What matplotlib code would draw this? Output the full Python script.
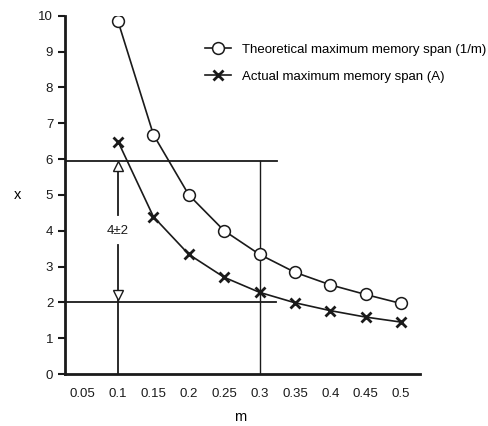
import numpy as np
import matplotlib
matplotlib.use("Agg")
import matplotlib.pyplot as plt

plt.rcParams['font.family'] = ['Liberation Sans', 'DejaVu Sans']

m = [0.1, 0.15, 0.2, 0.25, 0.3, 0.35, 0.4, 0.45, 0.5]
theoretical = [9.84, 6.68, 5.0, 4.0, 3.34, 2.84, 2.49, 2.22, 1.97]
actual = [6.49, 4.39, 3.34, 2.70, 2.28, 1.99, 1.77, 1.59, 1.45]
xticks = [0.05, 0.1, 0.15, 0.2, 0.25, 0.3, 0.35, 0.4, 0.45, 0.5]
xticklabels = ['0.05', '0.1', '0.15', '0.2', '0.25', '0.3', '0.35', '0.4', '0.45', '0.5']
span_low, span_high = 2, 5.95

fig = plt.figure(figsize=(4.89, 4.26), dpi=100)
ax = fig.add_axes([0.133, 0.122, 0.726, 0.841])

ax.plot(m, theoretical, '-', color='#1a1a1a', lw=1.2, marker='o', ms=8.5,
        mfc='white', mec='#1a1a1a', mew=1.1, zorder=3,
        label='Theoretical maximum memory span (1/m)')
ax.plot(m, actual, '-', color='#1a1a1a', lw=1.2, marker='x', ms=6.5,
        mew=2, mec='#1a1a1a', zorder=3,
        label='Actual maximum memory span (A)')

# reference lines
ax.plot([0.025, 0.325], [span_high, span_high], color='#1a1a1a', lw=1.3)
ax.plot([0.025, 0.324], [span_low, span_low], color='#1a1a1a', lw=1.3)
ax.plot([0.3, 0.3], [0, span_high], color='#1a1a1a', lw=1.0)

# 4±2 arrow at m = 0.1
ax.plot([0.1, 0.1], [0, 3.6], color='#1a1a1a', lw=1.3)
ax.plot([0.1, 0.1], [4.45, 5.7], color='#1a1a1a', lw=1.3)
ax.plot([0.1], [5.8], marker='^', ms=7, mfc='white', mec='#1a1a1a', mew=1.0)
ax.plot([0.1], [2.2], marker='v', ms=7, mfc='white', mec='#1a1a1a', mew=1.0)
ax.text(0.1, 4.0, '4\u00b12', ha='center', va='center', fontsize=9.5, color='#1a1a1a')

ax.set_xlim(0.025, 0.527)
ax.set_ylim(0, 10)
ax.set_xticks(xticks)
ax.set_xticklabels(xticklabels)
ax.set_yticks(range(0, 11))
ax.tick_params(axis='x', length=0, pad=10, labelsize=9.5, colors='#1a1a1a')
ax.tick_params(axis='y', length=5, width=1.5, labelsize=9.5, colors='#1a1a1a')
for s in ['top', 'right']:
    ax.spines[s].set_visible(False)
for s in ['left', 'bottom']:
    ax.spines[s].set_linewidth(2)
    ax.spines[s].set_color('#1a1a1a')

fig.text(240 / 489, 1 - 417 / 426, 'm', ha='center', va='center', fontsize=10.5)
fig.text(18 / 489, 1 - 195 / 426, 'x', ha='center', va='center', fontsize=10.5)

ax.legend(loc='upper left', bbox_to_anchor=(0.36, 0.955), frameon=False,
          fontsize=9.5, handlelength=2.0, handletextpad=0.8, labelspacing=1.1)

fig.savefig('out.png', dpi=100)
